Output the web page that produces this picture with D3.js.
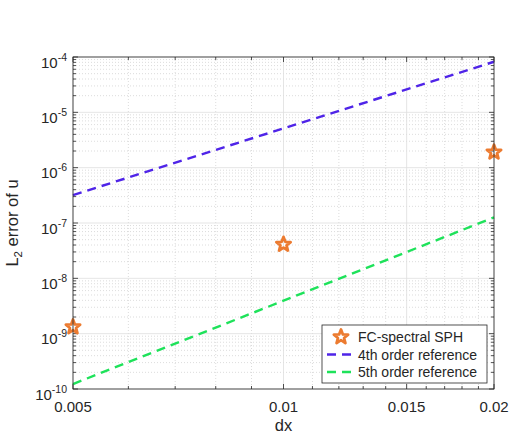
<!DOCTYPE html>
<html>
<head>
<meta charset="utf-8">
<script src="https://cdn.jsdelivr.net/npm/d3@7"></script>
<style>
  body { margin: 0; background: #fff; }
  text { font-family: "Liberation Sans", Arial, sans-serif; fill: #262626; }
</style>
</head>
<body>
<svg width="515" height="439"></svg>
<script>
  const svg = d3.select("svg");

  // data
  const dx = [0.005, 0.01, 0.02];
  const errFC = [1.32e-9, 4.1e-8, 1.9e-6];
  const ref4 = [3.2e-7, 5.12e-6, 8.2e-5];
  const ref5 = [1.23e-10, 3.94e-9, 1.26e-7];
  const xTicks = [0.005, 0.01, 0.015, 0.02];
  const xTickLabels = ["0.005", "0.01", "0.015", "0.02"];
  const yExps = [-10, -9, -8, -7, -6, -5, -4];
  const legendLabels = ["FC-spectral SPH", "4th order reference", "5th order reference"];

  const orange = "#EC7B30", blue = "#4F24E8", green = "#1EE25A", ink = "#262626";

  // plot box
  const L = 73, R = 494, T = 57, B = 389;

  const x = d3.scaleLog().domain([0.005, 0.02]).range([L, R]);
  const y = d3.scaleLog().domain([1e-10, 1e-4]).range([B, T]);

  // minor ticks
  const xMinor = d3.range(6, 20).map(d => d / 1000).filter(d => !xTicks.some(t => Math.abs(t - d) < 1e-9));
  const yMinor = [];
  yExps.slice(0, -1).forEach(e => { for (let k = 2; k <= 9; k++) yMinor.push(k * Math.pow(10, e)); });

  const g = svg.append("g");

  // minor grid (dotted)
  g.selectAll(".xmg").data(xMinor).enter().append("line")
    .attr("x1", d => x(d)).attr("x2", d => x(d)).attr("y1", T).attr("y2", B)
    .attr("stroke", "#c4c4c4").attr("stroke-width", 0.6).attr("stroke-dasharray", "1,2");
  g.selectAll(".ymg").data(yMinor).enter().append("line")
    .attr("x1", L).attr("x2", R).attr("y1", d => y(d)).attr("y2", d => y(d))
    .attr("stroke", "#c4c4c4").attr("stroke-width", 0.6).attr("stroke-dasharray", "1,2");

  // major grid
  g.selectAll(".xg").data(xTicks).enter().append("line")
    .attr("x1", d => x(d)).attr("x2", d => x(d)).attr("y1", T).attr("y2", B)
    .attr("stroke", "#dedede").attr("stroke-width", 0.8);
  g.selectAll(".yg").data(yExps).enter().append("line")
    .attr("x1", L).attr("x2", R).attr("y1", d => y(Math.pow(10, d))).attr("y2", d => y(Math.pow(10, d)))
    .attr("stroke", "#dedede").attr("stroke-width", 0.8);

  // ticks on all four sides, pointing inward
  const tickLines = (vals, len, horiz) => {
    vals.forEach(v => {
      if (horiz) {
        const px = x(v);
        g.append("line").attr("x1", px).attr("x2", px).attr("y1", B).attr("y2", B - len).attr("stroke", ink).attr("stroke-width", 0.8);
        g.append("line").attr("x1", px).attr("x2", px).attr("y1", T).attr("y2", T + len).attr("stroke", ink).attr("stroke-width", 0.8);
      } else {
        const py = y(v);
        g.append("line").attr("y1", py).attr("y2", py).attr("x1", L).attr("x2", L + len).attr("stroke", ink).attr("stroke-width", 0.8);
        g.append("line").attr("y1", py).attr("y2", py).attr("x1", R).attr("x2", R - len).attr("stroke", ink).attr("stroke-width", 0.8);
      }
    });
  };
  tickLines(xTicks, 5, true);
  tickLines(xMinor, 3, true);
  tickLines(yExps.map(e => Math.pow(10, e)), 5, false);
  tickLines(yMinor, 3, false);

  // reference lines
  const line = d3.line().x((d, i) => x(dx[i])).y(d => y(d));
  g.append("path").attr("d", line(ref4)).attr("fill", "none")
    .attr("stroke", blue).attr("stroke-width", 2.4).attr("stroke-dasharray", "9,6");
  g.append("path").attr("d", line(ref5)).attr("fill", "none")
    .attr("stroke", green).attr("stroke-width", 2.4).attr("stroke-dasharray", "9,6");

  // pentagram marker
  const star = (ro, ri) => {
    const pts = [];
    for (let i = 0; i < 10; i++) {
      const r = i % 2 === 0 ? ro : ri;
      const a = -Math.PI / 2 + i * Math.PI / 5;
      pts.push([r * Math.cos(a), r * Math.sin(a)]);
    }
    return "M" + pts.map(p => p.join(",")).join("L") + "Z";
  };
  g.selectAll(".star").data(errFC).enter().append("path")
    .attr("d", star(7.5, 3.2))
    .attr("transform", (d, i) => `translate(${x(dx[i])},${y(d)})`)
    .attr("fill", "none").attr("stroke", orange).attr("stroke-width", 2.8).attr("stroke-linejoin", "round");

  // axis box
  g.append("rect").attr("x", L).attr("y", T).attr("width", R - L).attr("height", B - T)
    .attr("fill", "none").attr("stroke", ink).attr("stroke-width", 0.8);

  // x tick labels
  g.selectAll(".xl").data(xTicks).enter().append("text")
    .attr("x", d => x(d)).attr("y", B + 22.5).attr("text-anchor", "middle")
    .attr("font-size", 15).text((d, i) => xTickLabels[i]);

  // y tick labels 10^n
  yExps.forEach(e => {
    const t = g.append("text").attr("x", L - 6).attr("y", y(Math.pow(10, e)) + 10.5)
      .attr("text-anchor", "end").attr("font-size", 15);
    t.append("tspan").text("10");
    t.append("tspan").attr("dy", -7).attr("font-size", 10.5).text(String(e));
  });

  // axis labels
  g.append("text").attr("x", (L + R) / 2).attr("y", 431).attr("text-anchor", "middle")
    .attr("font-size", 16.5).text("dx");
  const yl = g.append("text").attr("transform", `translate(18,${(T + B) / 2}) rotate(-90)`)
    .attr("text-anchor", "middle").attr("font-size", 16.5);
  yl.append("tspan").text("L");
  yl.append("tspan").attr("dy", 4).attr("font-size", 11.5).text("2");
  yl.append("tspan").attr("dy", -4).text(" error of u");

  // legend
  const lg = g.append("g");
  lg.append("rect").attr("x", 322).attr("y", 325).attr("width", 165).attr("height", 58)
    .attr("fill", "#fff").attr("stroke", ink).attr("stroke-width", 0.8);
  const rows = [337, 354.5, 372];
  lg.append("path").attr("d", star(7.5, 3.2)).attr("transform", `translate(341,${rows[0]})`)
    .attr("fill", "none").attr("stroke", orange).attr("stroke-width", 2.8).attr("stroke-linejoin", "round");
  [blue, green].forEach((c, i) => {
    lg.append("line").attr("x1", 327).attr("x2", 351).attr("y1", rows[i + 1]).attr("y2", rows[i + 1])
      .attr("stroke", c).attr("stroke-width", 2.4).attr("stroke-dasharray", "9,6");
  });
  lg.selectAll(".lt").data(legendLabels).enter().append("text")
    .attr("x", 358).attr("y", (d, i) => rows[i] + 5).attr("font-size", 14).text(d => d);
</script>
</body>
</html>
